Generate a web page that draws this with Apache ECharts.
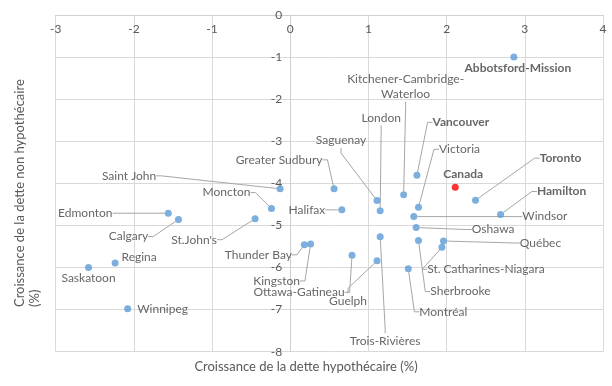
<!DOCTYPE html>
<html><head><meta charset="utf-8">
<script src="https://cdn.jsdelivr.net/npm/echarts@6/dist/echarts.min.js"></script>
<style>html,body{margin:0;padding:0;background:#fff}#c{width:612px;height:386px}</style>
</head><body><div id="c"></div>
<script>
// ---- data ----
const cities = ['Abbotsford-Mission','Kitchener-Cambridge-Waterloo','London','Vancouver','Saguenay','Victoria',
  'Greater Sudbury','Canada','Toronto','Hamilton','Windsor','Oshawa','Québec','St. Catharines-Niagara',
  'Sherbrooke','Montréal','Trois-Rivières','Guelph','Ottawa-Gatineau','Kingston','Thunder Bay',"St.John's",
  'Calgary','Edmonton','Moncton','Saint John','Regina','Saskatoon','Winnipeg','Halifax'];
const mortgageGrowth = [2.86,1.45,1.15,1.62,1.11,1.64,0.56,2.11,2.37,2.69,1.58,1.61,1.96,1.94,
  1.64,1.51,1.15,1.11,0.79,0.26,0.18,-0.45,-1.43,-1.56,-0.24,-0.13,-2.24,-2.58,-2.08,0.66];
const nonMortgageGrowth = [-1.00,-4.27,-4.65,-3.81,-4.41,-4.57,-4.13,-4.09,-4.40,-4.74,-4.79,-5.05,-5.37,-5.52,
  -5.36,-6.03,-5.27,-5.84,-5.71,-5.44,-5.46,-4.84,-4.86,-4.71,-4.60,-4.13,-5.89,-6.00,-6.98,-4.63];
const xTickLabels = [-3,-2,-1,0,1,2,3,4];
const yTickLabels = [0,-1,-2,-3,-4,-5,-6,-7,-8];
const xAxisTitle = 'Croissance de la dette hypothécaire (%)';
const yAxisTitleLines = ['Croissance de la dette non hypothécaire', '(%)'];
const boldCities = ['Abbotsford-Mission','Vancouver','Canada','Toronto','Hamilton'];
const highlightCity = 'Canada';

// ---- label placement: pixel offset of each label centre from its point (styling only) ----
const labelOffsets = {
  'Abbotsford-Mission':[4,11.5], 'Kitchener-Cambridge-Waterloo':[2,-108], 'London':[1,-93],
  'Vancouver':[44,-53], 'Saguenay':[-36,-60], 'Victoria':[41,-58], 'Greater Sudbury':[-55,-29],
  'Canada':[8,-13], 'Toronto':[85,-42], 'Hamilton':[61,-23], 'Windsor':[131,0], 'Oshawa':[77,2],
  'Québec':[97,2], 'St. Catharines-Niagara':[44,22], 'Sherbrooke':[42,51], 'Montréal':[35,43],
  'Trois-Rivières':[5,104], 'Guelph':[-29,40], 'Ottawa-Gatineau':[-53,37], 'Kingston':[-34,37],
  'Thunder Bay':[-46,10], "St.John's":[-61,21], 'Calgary':[-50,17], 'Edmonton':[-83,0],
  'Moncton':[-45,-16], 'Saint John':[-151,-13], 'Regina':[24,-6], 'Saskatoon':[0,11],
  'Winnipeg':[35,0], 'Halifax':[-35,0]
};
const noLeader = ['Abbotsford-Mission','Canada','Regina','Saskatoon','Winnipeg'];

const FONT = 'Lato, sans-serif';
const TXT = '#404040';
const AX = '#595959';

const points = cities.map((c, i) => ({
  name: c,
  value: [mortgageGrowth[i], nonMortgageGrowth[i]],
  itemStyle: { color: c === highlightCity ? '#FF0000' : '#5B9BD5' },
  label: { fontWeight: boldCities.includes(c) ? 'bold' : 'normal' },
  labelLine: { show: !noLeader.includes(c) }
}));

const xMin = xTickLabels[0], xMax = xTickLabels[xTickLabels.length - 1];
const yMin = yTickLabels[yTickLabels.length - 1], yMax = yTickLabels[0];

const chart = echarts.init(document.getElementById('c'), null, { renderer: 'canvas' });
chart.setOption({
  animation: false,
  backgroundColor: '#fff',
  grid: { left: 55.7, right: 9, top: 15, bottom: 34.3, containLabel: false },
  xAxis: {
    type: 'value', min: xMin, max: xMax, interval: 1,
    position: 'top',
    axisLine: { show: true, onZero: false, lineStyle: { color: '#d0d0d0', width: 1 } },
    axisTick: { show: false },
    axisLabel: { inside: true, color: AX, fontSize: 12, fontFamily: FONT, margin: 8 },
    splitLine: { show: true, lineStyle: { color: '#d9d9d9', width: 1 } }
  },
  yAxis: {
    type: 'value', min: yMin, max: yMax, interval: 1,
    position: 'left',
    axisLine: { show: true, onZero: false, lineStyle: { color: '#d0d0d0', width: 1 } },
    axisTick: { show: false },
    axisLabel: { color: AX, fontSize: 12, fontFamily: FONT, margin: 8 },
    splitLine: { show: true, lineStyle: { color: '#d9d9d9', width: 1 } }
  },
  series: [{
    type: 'scatter',
    symbol: 'circle',
    symbolSize: 7,
    data: points,
    label: {
      show: true, position: 'inside', color: TXT, fontSize: 12, fontFamily: FONT, lineHeight: 15,
      formatter: p => p.name.replace('Cambridge-', 'Cambridge-\n')
    },
    labelLine: { show: true, length2: 5, lineStyle: { color: '#a6a6a6', width: 1 } },
    labelLayout: function (p) {
      const o = labelOffsets[cities[p.dataIndex]] || [0, 0];
      return {
        x: p.rect.x + p.rect.width / 2 + o[0],
        y: p.rect.y + p.rect.height / 2 + o[1],
        align: 'center', verticalAlign: 'middle'
      };
    }
  }],
  graphic: [
    { type: 'text', left: 'center', top: 360, style: { text: xAxisTitle, fill: AX, font: '13px ' + FONT } },
    { type: 'text', x: 20, y: 307, rotation: Math.PI / 2,
      style: { text: yAxisTitleLines[0], fill: AX, font: '13px ' + FONT, align: 'left', verticalAlign: 'middle' } },
    { type: 'text', x: 35, y: 307, rotation: Math.PI / 2,
      style: { text: yAxisTitleLines[1], fill: AX, font: '13px ' + FONT, align: 'left', verticalAlign: 'middle' } }
  ]
});
// place the vertical axis on x = 0 using the library's own scale
const zeroPx = chart.convertToPixel({ xAxisIndex: 0 }, 0);
const leftPx = chart.convertToPixel({ xAxisIndex: 0 }, xMin);
chart.setOption({ yAxis: { offset: -(zeroPx - leftPx) } });
</script></body></html>
